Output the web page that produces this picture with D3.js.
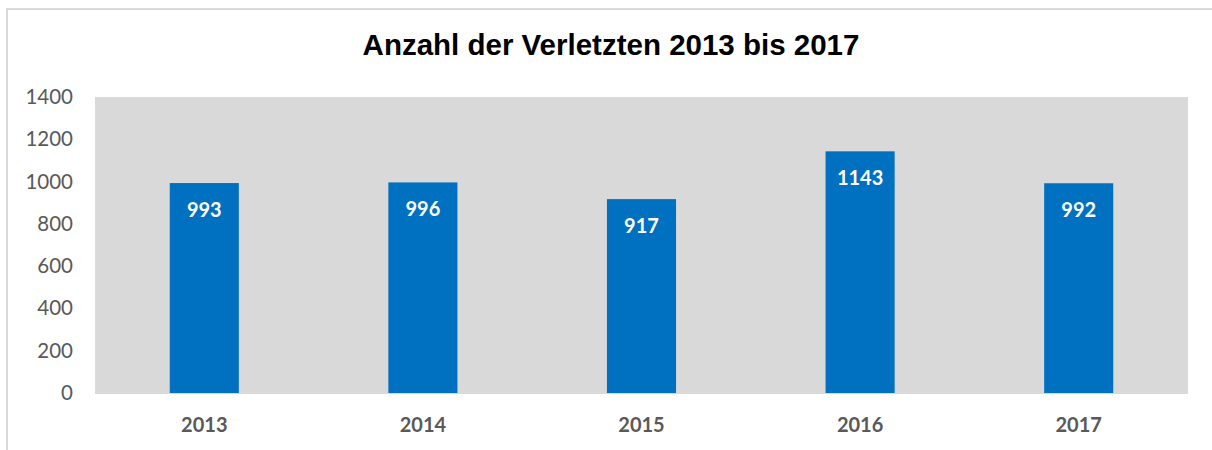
<!DOCTYPE html>
<html>
<head>
<meta charset="utf-8">
<script src="https://cdn.jsdelivr.net/npm/d3@7"></script>
<style>
  body { margin: 0; background: #fff; }
  svg { display: block; }
</style>
</head>
<body>
<div id="chart"></div>
<script>
var years = ["2013", "2014", "2015", "2016", "2017"];
var injured = [993, 996, 917, 1143, 992];
var yTicks = [0, 200, 400, 600, 800, 1000, 1200, 1400];
var title = "Anzahl der Verletzten 2013 bis 2017";

var width = 1212, height = 450;
var plot = {left: 95, right: 1188, top: 97, bottom: 393};

var svg = d3.select("#chart").append("svg").attr("width", width).attr("height", height);

// outer frame of the chart box
svg.append("rect")
    .attr("x", 7).attr("y", 9).attr("width", 1220).attr("height", 460)
    .attr("fill", "none").attr("stroke", "#d9d9d9").attr("stroke-width", 2);

svg.append("text")
    .attr("x", 611).attr("y", 55)
    .attr("text-anchor", "middle")
    .attr("font-family", "'Liberation Sans', Arial, sans-serif")
    .attr("font-weight", "bold").attr("font-size", 29.5)
    .attr("fill", "#000")
    .text(title);

var x = d3.scaleBand().domain(years).range([plot.left, plot.right]).paddingInner(0.684).paddingOuter(0.342);
var y = d3.scaleLinear().domain([0, 1400]).range([plot.bottom, plot.top]);

// plot area background
svg.append("rect")
    .attr("x", plot.left).attr("y", plot.top)
    .attr("width", plot.right - plot.left).attr("height", plot.bottom - plot.top + 1)
    .attr("fill", "#d9d9d9");

var data = years.map(function (d, i) { return {year: d, value: injured[i]}; });

svg.append("g").selectAll("rect").data(data).enter().append("rect")
    .attr("x", function (d) { return x(d.year); })
    .attr("y", function (d) { return y(d.value); })
    .attr("width", x.bandwidth())
    .attr("height", function (d) { return y(0) - y(d.value); })
    .attr("fill", "#0070c0");

svg.append("g").selectAll("text").data(data).enter().append("text")
    .attr("x", function (d) { return x(d.year) + x.bandwidth() / 2; })
    .attr("y", function (d) { return y(d.value) + 34; })
    .attr("text-anchor", "middle")
    .attr("font-family", "Lato, 'Open Sans', sans-serif")
    .attr("font-weight", "bold").attr("font-size", 20)
    .attr("fill", "#fff")
    .text(function (d) { return d.value; });

var yAxis = svg.append("g")
    .attr("transform", "translate(" + 73 + ",0)")
    .call(d3.axisLeft(y).tickValues(yTicks).tickFormat(d3.format("d")).tickSize(0).tickPadding(0));
yAxis.select(".domain").remove();
yAxis.selectAll("text")
    .attr("font-family", "Lato, 'Open Sans', sans-serif")
    .attr("font-size", 20.5).attr("fill", "#595959");

var xAxis = svg.append("g")
    .attr("transform", "translate(0," + 432 + ")")
    .call(d3.axisBottom(x).tickSize(0).tickPadding(0));
xAxis.select(".domain").remove();
xAxis.selectAll("text")
    .attr("dy", 0)
    .attr("font-family", "Lato, 'Open Sans', sans-serif")
    .attr("font-weight", "bold")
    .attr("font-size", 20).attr("fill", "#595959");
</script>
</body>
</html>
